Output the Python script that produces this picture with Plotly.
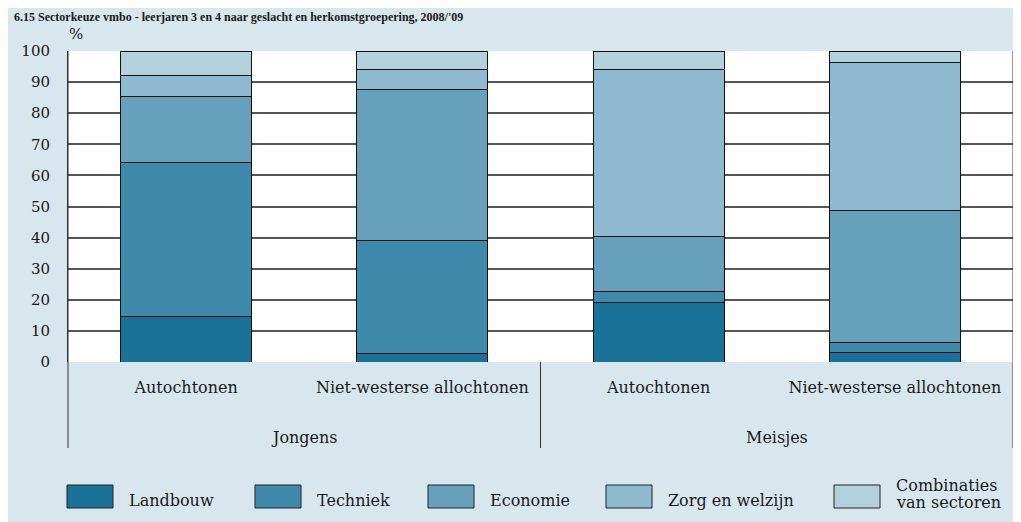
import plotly.graph_objects as go

# groepen en herkomst
geslacht = ["Jongens", "Jongens", "Meisjes", "Meisjes"]
herkomst = ["Autochtonen", "Niet-westerse allochtonen", "Autochtonen", "Niet-westerse allochtonen"]
groepen = ["Jongens", "Meisjes"]

# aandeel per sector (%)
landbouw = [14.6, 2.7, 19.0, 3.2]
techniek = [49.4, 36.5, 3.8, 3.2]
economie = [21.3, 48.3, 17.7, 42.2]
zorg = [6.7, 6.5, 53.4, 47.8]
combinaties = [8.0, 6.0, 6.1, 3.6]

sectoren = ["Landbouw", "Techniek", "Economie", "Zorg en welzijn", "Combinaties<br>van sectoren"]
kleuren = ["#1b7299", "#3f89ab", "#66a0bb", "#8eb9cf", "#b3d1dc"]
waarden = [landbouw, techniek, economie, zorg, combinaties]

BG = "#d8e6ee"
FONT = "DejaVu Serif"
TXT = "#1a1a1a"

# de pagina zet de figuur 8px naar rechts/onder; plotgebied op scherm: x 68..1013, y 51..362
OFF = 8
W, H = 1021, 522
L, T = 68 - OFF, 51 - OFF
R, B = W - (1013 - OFF), H - (362 - OFF)
pw, ph = W - L - R, H - T - B


def px(x):
    # schermpixel -> paper-coordinaat
    return (x - OFF - L) / pw


def py(y):
    return (H - B - (y - OFF)) / ph


sleutels = [g + " " + h for g, h in zip(geslacht, herkomst)]

fig = go.Figure()
for naam, kleur, v in zip(sectoren, kleuren, waarden):
    fig.add_trace(go.Bar(
        x=sleutels, y=v, name=naam,
        marker=dict(color=kleur, line=dict(color="#111", width=1)),
        width=0.555, showlegend=False,
    ))

shapes = []
# scheidingslijnen van de groepen
for xp, ytop in [(0, 1), (0.5, 0), (1, 1)]:
    shapes.append(dict(type="line", xref="paper", yref="paper", x0=xp, x1=xp,
                       y0=py(448), y1=ytop, line=dict(color="#333", width=1)))

annotations = [
    dict(text="%", xref="paper", yref="paper", x=px(67), y=py(34),
         xanchor="left", yanchor="middle", showarrow=False, font=dict(size=15)),
    dict(text="<b>6.15 Sectorkeuze vmbo - leerjaren 3 en 4 naar geslacht en herkomstgroepering, 2008/'09</b>",
         xref="paper", yref="paper", x=px(12), y=py(8), xanchor="left", yanchor="top",
         showarrow=False, font=dict(size=12, family="Liberation Serif")),
]
for i, g in enumerate(groepen):
    annotations.append(dict(text=g, xref="paper", yref="paper", x=0.25 + 0.5 * i, y=py(437),
                            xanchor="center", yanchor="middle", showarrow=False))

# legenda met grote vlakken
legenda_x = [67, 255, 428, 606, 834]
for naam, kleur, x0 in zip(sectoren, kleuren, legenda_x):
    shapes.append(dict(type="rect", xref="paper", yref="paper",
                       x0=px(x0), x1=px(x0 + 46), y0=py(508), y1=py(485),
                       fillcolor=kleur, line=dict(color="#222", width=1)))
    regels = naam.split("<br>")
    ys = [500] if len(regels) == 1 else [485, 502]
    for regel, yy in zip(regels, ys):
        annotations.append(dict(text=regel, xref="paper", yref="paper", x=px(x0 + 60),
                                y=py(yy), xanchor="left", yanchor="middle", showarrow=False))

fig.update_layout(
    barmode="stack",
    width=W, height=H,
    margin=dict(l=L, r=R, t=T, b=B),
    paper_bgcolor=BG,
    plot_bgcolor="white",
    font=dict(family=FONT, size=16, color=TXT),
    shapes=shapes,
    annotations=annotations,
)

fig.update_yaxes(
    range=[0, 100], dtick=10, showgrid=True, gridcolor="#555", gridwidth=1.5,
    showline=True, linecolor="#333", linewidth=1, zeroline=False,
    ticks="", ticklabelstandoff=14, automargin=False, tickfont=dict(size=15),
)
fig.update_xaxes(
    showgrid=False, showline=False, ticks="", automargin=False,
    tickmode="array", tickvals=sleutels, ticktext=herkomst,
    ticklabelstandoff=14,
)

fig.write_html("out.html")
